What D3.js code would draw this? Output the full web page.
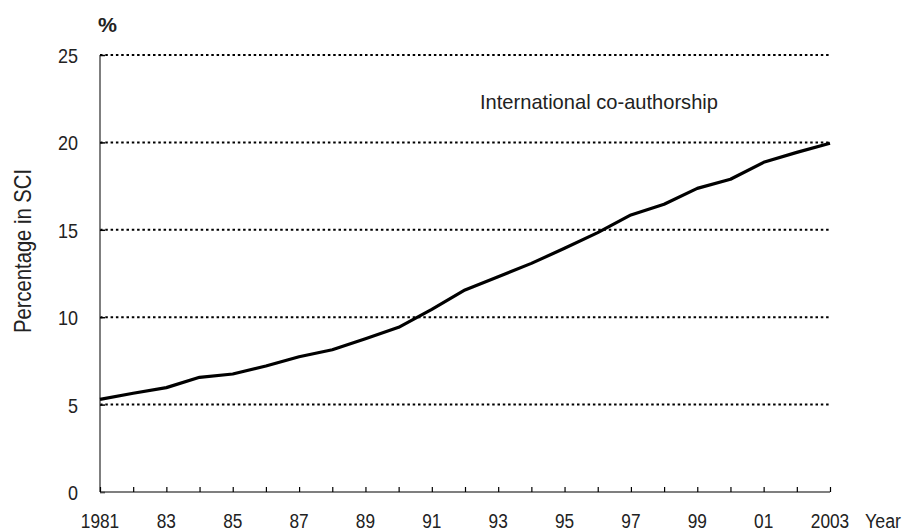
<!DOCTYPE html>
<html>
<head>
<meta charset="utf-8">
<script src="https://cdn.jsdelivr.net/npm/d3@7"></script>
<style>
  body { margin: 0; background: #fff; }
  text { font-family: "Liberation Sans", Arial, sans-serif; fill: #222; }
</style>
</head>
<body>
<svg id="chart" width="905" height="532"></svg>
<script>
// DATA
var years = [1981, 1982, 1983, 1984, 1985, 1986, 1987, 1988, 1989, 1990, 1991, 1992,
             1993, 1994, 1995, 1996, 1997, 1998, 1999, 2000, 2001, 2002, 2003];
var shares = [5.30, 5.65, 5.97, 6.56, 6.75, 7.21, 7.74, 8.14, 8.77, 9.42, 10.45, 11.56,
              12.32, 13.08, 13.94, 14.84, 15.85, 16.46, 17.37, 17.89, 18.86, 19.43, 19.95];
var yTicks = [0, 5, 10, 15, 20, 25];
var xLabelYears = [1981, 1983, 1985, 1987, 1989, 1991, 1993, 1995, 1997, 1999, 2001, 2003];
var xLabels = ['1981', '83', '85', '87', '89', '91', '93', '95', '97', '99', '01', '2003'];

var svg = d3.select('#chart');
var mLeft = 100, mRight = 830, mTop = 55, mBottom = 492;

var x = d3.scaleLinear().domain([1981, 2003]).range([mLeft, mRight]);
var y = d3.scaleLinear().domain([0, 25]).range([mBottom, mTop]);

// narrow font look: squeeze each text to a given width
function squeeze(sel, perChar) {
    sel.attr('textLength', function() { return this.textContent.length * perChar; })
       .attr('lengthAdjust', 'spacingAndGlyphs');
}

//.......................................................//
// GRID (dotted)
svg.append('g')
   .selectAll('line')
   .data(yTicks.filter(function(d) { return d > 0; }))
   .join('line')
   .attr('x1', mLeft)
   .attr('x2', mRight)
   .attr('y1', function(d) { return y(d); })
   .attr('y2', function(d) { return y(d); })
   .style('stroke', '#000')
   .style('stroke-width', 2)
   .style('stroke-dasharray', '2.5,2.8');

//.......................................................//
// Y AXIS
var yAxis = d3.axisRight(y).tickValues(yTicks).tickSize(5).tickFormat('');
var gy = svg.append('g').attr('transform', 'translate(' + mLeft + ',0)').call(yAxis);
gy.select('.domain').attr('d', 'M0,' + y(0) + 'V' + y(25)).style('stroke', '#555').style('stroke-width', 1.5);
gy.selectAll('.tick line').style('stroke', '#000').style('stroke-width', 1.5);

svg.append('g')
   .selectAll('text')
   .data(yTicks)
   .join('text')
   .attr('x', 78)
   .attr('y', function(d) { return y(d) + 8; })
   .attr('text-anchor', 'end')
   .style('font-size', '21px')
   .text(function(d) { return d; })
   .call(squeeze, 10);

//.......................................................//
// X AXIS
var xAxis = d3.axisTop(x).tickValues(years).tickSize(5).tickFormat('');
var gx = svg.append('g').attr('transform', 'translate(0,' + mBottom + ')').call(xAxis);
gx.select('.domain').attr('d', 'M' + mLeft + ',0H' + mRight).style('stroke', '#555').style('stroke-width', 1.5);
gx.selectAll('.tick line').style('stroke', '#000').style('stroke-width', 1.2);

svg.append('g')
   .selectAll('text')
   .data(xLabelYears)
   .join('text')
   .attr('x', function(d) { return x(d); })
   .attr('y', 528)
   .attr('text-anchor', 'middle')
   .style('font-size', '20px')
   .text(function(d, i) { return xLabels[i]; })
   .call(squeeze, 9.6);

//.......................................................//
// LINE
var line = d3.line()
             .x(function(d, i) { return x(years[i]); })
             .y(function(d) { return y(d); });

svg.append('path')
   .datum(shares)
   .attr('d', line)
   .style('fill', 'none')
   .style('stroke', '#000')
   .style('stroke-width', 3.2)
   .style('stroke-linejoin', 'round');

//.......................................................//
// LABELS
svg.append('text')
   .attr('x', 480)
   .attr('y', 109)
   .style('font-size', '21px')
   .attr('textLength', 238)
   .attr('lengthAdjust', 'spacingAndGlyphs')
   .text('International co-authorship');

svg.append('text')
   .attr('x', 98)
   .attr('y', 32)
   .style('font-size', '20px')
   .style('font-weight', 'bold')
   .attr('textLength', 19)
   .attr('lengthAdjust', 'spacingAndGlyphs')
   .text('%');

svg.append('text')
   .attr('x', 865)
   .attr('y', 528)
   .style('font-size', '20px')
   .attr('textLength', 36)
   .attr('lengthAdjust', 'spacingAndGlyphs')
   .text('Year');

svg.append('text')
   .attr('transform', 'translate(31,251) rotate(-90)')
   .attr('text-anchor', 'middle')
   .style('font-size', '24px')
   .attr('textLength', 164)
   .attr('lengthAdjust', 'spacingAndGlyphs')
   .text('Percentage in SCI');
</script>
</body>
</html>
